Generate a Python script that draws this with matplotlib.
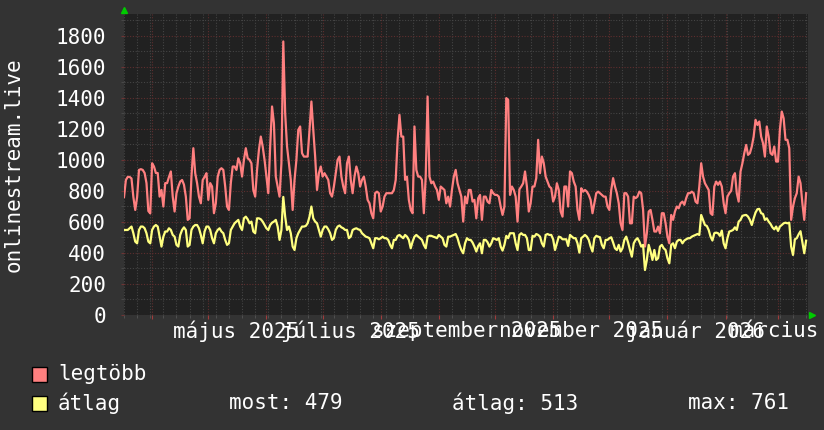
import numpy as np
import matplotlib
matplotlib.use("Agg")
import matplotlib.pyplot as plt
import matplotlib.dates as mdates
from matplotlib.patches import Rectangle

# daily values, first day 2025-03-17
start_day = "2025-03-17"
end_day = "2026-03-17"

legtobb = [
    760, 870, 890, 890, 880, 760, 677,
    760, 935, 940, 935, 915, 850, 670,
    655, 978, 957, 915, 915, 763, 806,
    699, 850, 850, 890, 925, 763, 667,
    785, 828, 860, 870, 840, 763, 613,
    623, 892, 1075, 914, 850, 763, 720,
    870, 890, 914, 742, 850, 828, 656,
    720, 890, 935, 946, 935, 828, 699,
    677, 850, 957, 957, 935, 1010, 978,
    892, 1000, 1075, 1010, 1000, 978, 806,
    763, 935, 1064, 1150, 1086, 1000, 892,
    785, 1086, 1344, 1236, 892, 828, 763,
    978, 1763, 1300, 1086, 978, 871, 677,
    871, 1000, 1193, 1215, 1043, 1021, 1021,
    1021, 1193, 1376, 1193, 1021, 806, 914,
    957, 892, 914, 892, 871, 785, 763,
    828, 914, 1000, 1021, 892, 828, 785,
    978, 1021, 871, 785, 892, 957, 914,
    828, 871, 892, 828, 742, 720, 656,
    623, 785, 795, 785, 667, 699, 763,
    785, 785, 785, 785, 806, 871, 1129,
    1290, 1150, 1150, 871, 892, 742, 677,
    656, 1215, 935, 892, 892, 871, 656,
    892, 1408, 892, 849, 860, 828, 806,
    742, 828, 817, 806, 720, 763, 699,
    806, 892, 935, 849, 806, 763, 602,
    763, 720, 806, 806, 731, 742, 623,
    753, 774, 613, 763, 763, 731, 720,
    806, 785, 774, 774, 763, 699, 645,
    699, 1398, 1387, 774, 828, 806, 763,
    602, 810, 828, 849, 925, 828, 667,
    720, 828, 828, 882, 1129, 914, 1021,
    978, 892, 860, 828, 817, 731, 763,
    849, 806, 667, 634, 828, 828, 699,
    925, 914, 860, 828, 677, 613, 817,
    795, 806, 795, 774, 742, 656, 720,
    785, 795, 785, 774, 763, 763, 699,
    677, 806, 882, 828, 785, 720, 591,
    548, 785, 785, 763, 591, 591, 763,
    753, 763, 795, 785, 677, 441, 527,
    667, 677, 613, 538, 538, 570, 527,
    656, 656, 591, 505, 462, 645, 613,
    667, 699, 688, 720, 731, 710, 753,
    785, 785, 795, 785, 731, 720, 828,
    978, 892, 849, 828, 806, 656, 645,
    828, 860, 839, 860, 828, 720, 656,
    763, 785, 800, 892, 914, 785, 731,
    925, 978, 1043, 1096, 1032, 1043, 1086,
    1150, 1258, 1225, 1247, 1150, 1107, 1021,
    1215, 1150, 1043, 1032, 1086, 989, 989,
    1193, 1311, 1268, 1129, 1129, 1075, 613,
    699, 753, 785, 892, 850, 720, 613,
    785,
]

atlag = [
    548, 548, 548, 559, 570, 527, 473,
    462, 548, 570, 570, 559, 527, 473,
    462, 548, 570, 580, 570, 505, 441,
    505, 538, 538, 559, 548, 516, 505,
    452, 441, 516, 548, 565, 548, 441,
    452, 548, 570, 580, 580, 559, 516,
    462, 538, 570, 570, 548, 495, 462,
    527, 548, 559, 538, 527, 484, 452,
    462, 548, 570, 591, 602, 613, 570,
    548, 623, 634, 617, 591, 602, 538,
    527, 623, 623, 617, 602, 580, 559,
    548, 580, 595, 602, 613, 570, 484,
    548, 761, 634, 548, 570, 527, 441,
    419, 495, 527, 548, 570, 570, 574,
    591, 634, 699, 623, 602, 591, 548,
    505, 548, 570, 570, 552, 527, 484,
    495, 548, 570, 577, 565, 559, 548,
    548, 495, 505, 548, 555, 559, 552,
    548, 527, 516, 505, 501, 495, 462,
    430, 495, 495, 488, 495, 505, 495,
    495, 484, 452, 430, 484, 484, 510,
    516, 505, 495, 516, 505, 484, 430,
    473, 505, 516, 505, 495, 484, 452,
    430, 505, 511, 510, 505, 501, 495,
    516, 505, 495, 452, 441, 505, 505,
    511, 516, 522, 495, 452, 419, 398,
    462, 495, 484, 484, 467, 441, 409,
    445, 462, 398, 484, 484, 469, 441,
    462, 495, 490, 484, 495, 441, 415,
    452, 510, 495, 527, 527, 527, 462,
    419, 516, 527, 516, 516, 495, 419,
    419, 510, 505, 522, 516, 505, 462,
    441, 516, 522, 516, 516, 488, 419,
    462, 505, 501, 488, 488, 488, 445,
    516, 505, 495, 495, 462, 402, 495,
    505, 516, 505, 484, 441, 409, 495,
    510, 505, 501, 452, 430, 484, 484,
    495, 501, 467, 430, 419, 452, 409,
    430, 484, 505, 467, 419, 376, 462,
    484, 495, 473, 441, 452, 290, 355,
    452, 409, 355, 419, 355, 366, 441,
    452, 430, 419, 366, 333, 452, 462,
    430, 473, 484, 484, 462, 480, 488,
    495, 495, 505, 511, 516, 522, 516,
    645, 613, 580, 574, 548, 505, 480,
    527, 531, 527, 510, 544, 462, 430,
    495, 538, 542, 548, 565, 548, 602,
    613, 639, 643, 645, 634, 613, 580,
    623, 660, 682, 684, 656, 651, 613,
    623, 602, 587, 565, 552, 570, 542,
    570, 580, 591, 595, 591, 595, 441,
    387, 488, 495, 520, 540, 470, 398,
    479,
]

month_labels = ["május 2025", "július 2025", "szeptember 2025",
                "november 2025", "január 2026", "március 2026"]
label_days = ["2025-05-16", "2025-07-16", "2025-09-16",
              "2025-11-16", "2026-01-16", "2026-03-16"]
y_ticks = [0, 200, 400, 600, 800, 1000, 1200, 1400, 1600, 1800]

most, atlag_mean, atlag_max = 479, 513, 761

RED = "#ff8080"
YEL = "#ffff80"
BG = "#333333"
PLOT_BG = "#212121"

plt.rcParams["font.family"] = ["DejaVu Sans Mono"]

fig = plt.figure(figsize=(8.24, 4.30), dpi=100, facecolor=BG)
ax = fig.add_axes([124/824, 115/430, 684/824, 301/430], facecolor=PLOT_BG)

dates = np.datetime64(start_day) + np.arange(len(legtobb))
ax.plot(dates, legtobb, color=RED, lw=1.6, zorder=3)
ax.plot(dates[:len(atlag)], atlag, color=YEL, lw=1.6, zorder=4)

ax.set_xlim(np.datetime64(start_day), np.datetime64(end_day))
ax.set_ylim(0, 1940)

ax.set_yticks(y_ticks)
ax.set_yticks(np.arange(100, 1940, 200), minor=True)
ax.xaxis.set_major_locator(mdates.MonthLocator(bymonthday=1))
ax.xaxis.set_minor_locator(mdates.WeekdayLocator(byweekday=mdates.MO))
ax.xaxis.set_major_formatter(plt.NullFormatter())

dots = (0, (1, 1.5))
ax.grid(which="major", color="#5e2e2e", linestyle=dots, linewidth=0.8)
ax.grid(which="minor", color="#444444", linestyle=dots, linewidth=0.8)
ax.set_axisbelow(True)

for s in ax.spines.values():
    s.set_visible(False)

ax.tick_params(axis="y", which="major", length=2, pad=11, color="#6e3434",
               labelcolor="white", labelsize=15)
ax.tick_params(axis="y", which="minor", length=2, color="#4c4c4c")
ax.tick_params(axis="x", which="major", length=3, color="#a03c3c")
ax.tick_params(axis="x", which="minor", length=2, color="#555555")

for d, lab in zip(label_days, month_labels):
    ax.text(mdates.datestr2num(d), -0.053, lab, transform=ax.get_xaxis_transform(),
            ha="center", va="center", color="white", fontsize=15, clip_on=False)

# green axis arrows
ax.plot([0], [1.013], marker="^", color="#00cc00", markersize=5,
        transform=ax.transAxes, clip_on=False)
ax.plot([1.006], [0], marker=">", color="#00cc00", markersize=5,
        transform=ax.transAxes, clip_on=False)

fig.text(14/824, 1 - 165/430, "onlinestream.live", rotation=90, color="white",
         fontsize=15, ha="center", va="center")

# legend
fig.patches.append(Rectangle((32/824, 1 - 382/430), 15/824, 15/430,
                             transform=fig.transFigure, facecolor=RED,
                             edgecolor="black", linewidth=1))
fig.patches.append(Rectangle((32/824, 1 - 411/430), 15/824, 15/430,
                             transform=fig.transFigure, facecolor=YEL,
                             edgecolor="black", linewidth=1))
fig.text(58/824, 1 - 374/430, "legtöbb", color="white", fontsize=15, va="center")
fig.text(58/824, 1 - 403/430, "átlag", color="white", fontsize=15, va="center")
fig.text(229/824, 1 - 403/430, f"most: {most}", color="white", fontsize=15, va="center")
fig.text(452/824, 1 - 403/430, f"átlag: {atlag_mean}", color="white", fontsize=15, va="center")
fig.text(688/824, 1 - 403/430, f"max: {atlag_max}", color="white", fontsize=15, va="center")

fig.savefig("out.png", dpi=100, facecolor=BG)
